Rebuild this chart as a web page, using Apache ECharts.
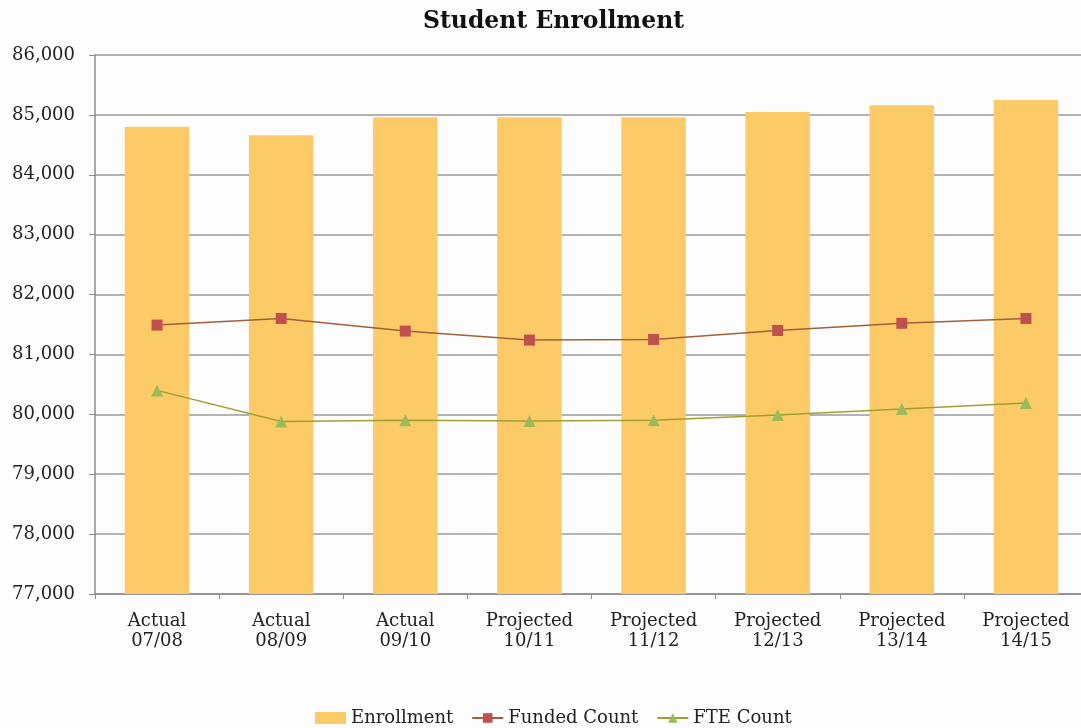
<!DOCTYPE html>
<html>
<head>
<meta charset="utf-8">
<title>Student Enrollment</title>
<script src="https://cdn.jsdelivr.net/npm/echarts@6/dist/echarts.min.js"></script>
<style>
  html, body { margin: 0; padding: 0; background: #fdfdfd; }
  #main { width: 1081px; height: 728px; }
</style>
</head>
<body>
<div id="main"></div>
<script>
// categories (two-line labels)
var years = ["Actual\n07/08", "Actual\n08/09", "Actual\n09/10", "Projected\n10/11",
             "Projected\n11/12", "Projected\n12/13", "Projected\n13/14", "Projected\n14/15"];

// series values
var enrollment = [84800, 84660, 84960, 84960, 84960, 85050, 85160, 85250];
var fundedCount = [81490, 81600, 81390, 81240, 81250, 81400, 81520, 81600];
var fteCount = [80400, 79880, 79900, 79890, 79900, 79990, 80090, 80190];

var yMin = 77000, yMax = 86000, yStep = 1000;

var font = "DejaVu Serif";

var myChart = echarts.init(document.getElementById("main"));

myChart.setOption({
  backgroundColor: "#fdfdfd",
  textStyle: { fontFamily: font },
  title: {
    text: "Student Enrollment",
    left: 418,
    top: 5,
    textStyle: { fontFamily: font, fontSize: 23.5, fontWeight: "bold", color: "#111" }
  },
  legend: {
    top: 704,
    left: 310,
    itemGap: 18,
    itemWidth: 31,
    itemHeight: 12,
    textStyle: { fontFamily: font, fontSize: 18, color: "#222" },
    data: [
      { name: "Enrollment", icon: "rect" },
      { name: "Funded Count" },
      { name: "FTE Count" }
    ]
  },
  // plot runs a little past the right edge, like the original
  grid: {
    left: 95,
    top: 55,
    bottom: 134,
    width: 993,
    outerBoundsMode: "none",
    containLabel: false
  },
  xAxis: {
    type: "category",
    data: years,
    axisLine: { lineStyle: { color: "#8c8c8c", width: 1.5 } },
    axisTick: { show: true, length: 5, lineStyle: { color: "#8c8c8c" } },
    axisLabel: {
      color: "#222",
      fontFamily: font,
      fontSize: 18,
      lineHeight: 20,
      margin: 17
    }
  },
  yAxis: {
    type: "value",
    min: yMin,
    max: yMax,
    interval: yStep,
    axisLine: { show: true, lineStyle: { color: "#8c8c8c", width: 1.5 } },
    axisTick: { show: true, length: 6, lineStyle: { color: "#8c8c8c" } },
    splitLine: { lineStyle: { color: "#9a9a9a", width: 1.5 } },
    axisLabel: {
      color: "#222",
      fontFamily: font,
      fontSize: 18,
      margin: 20,
      formatter: function (v) { return v.toLocaleString("en-US"); }
    }
  },
  series: [
    {
      name: "Enrollment",
      type: "bar",
      data: enrollment,
      barWidth: "52%",
      itemStyle: { color: "#fdca68" },
      z: 1
    },
    {
      name: "Funded Count",
      type: "line",
      data: fundedCount,
      symbol: "rect",
      symbolSize: 11,
      itemStyle: { color: "#c0504d" },
      lineStyle: { color: "#a0603a", width: 1.5 },
      z: 3
    },
    {
      name: "FTE Count",
      type: "line",
      data: fteCount,
      symbol: "triangle",
      symbolSize: 12,
      itemStyle: { color: "#9bbb59" },
      lineStyle: { color: "#a0a030", width: 1.5 },
      z: 3
    }
  ]
});
</script>
</body>
</html>
